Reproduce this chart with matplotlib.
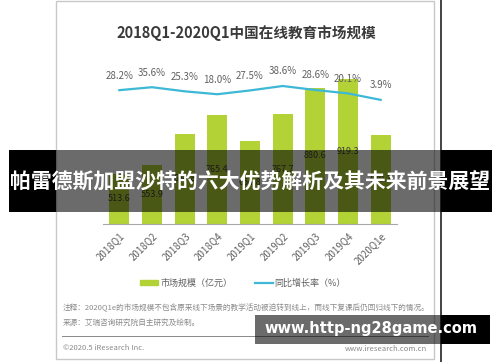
import matplotlib
matplotlib.use("Agg")
import matplotlib.pyplot as plt
from matplotlib.patches import Rectangle
from matplotlib.lines import Line2D

plt.rcParams['font.family'] = ['Noto Sans CJK SC', 'DejaVu Sans']

quarters = ["2018Q1", "2018Q2", "2018Q3", "2018Q4", "2019Q1",
            "2019Q2", "2019Q3", "2019Q4", "2020Q1e"]
market_size = [513.6, 553.9, 684.8, 765.4, 654.8, 767.7, 880.6, 919.3, 680.3]
growth = [28.2, 35.6, 25.3, 18.0, 27.5, 38.6, 28.6, 20.1, 3.9]

title = "2018Q1-2020Q1中国在线教育市场规模"
legend_bar = "市场规模（亿元）"
legend_line = "同比增长率（%）"
note1 = "注释：2020Q1e的市场规模不包含原来线下场景的教学活动被迫转到线上，而线下复课后仍回归线下的情况。"
note2 = "来源：艾瑞咨询研究院自主研究及绘制。"
copyright_txt = "©2020.5 iResearch Inc."
site_txt = "www.iresearch.com.cn"
banner_txt = "帕雷德斯加盟沙特的六大优势解析及其未来前景展望"
watermark_txt = "www.http-ng28game.com"

W, H = 500, 362
def fx(px):
    return px / W
def fy(py):
    return 1 - py / H

bar_color = "#b2d235"
line_color = "#3db8d6"

fig = plt.figure(figsize=(5, 3.62), dpi=100)
fig.patch.set_facecolor("white")

# outer frame of the report card + dark line on the right
fig.add_artist(Rectangle((fx(56), fy(359)), fx(434) - fx(56), fy(1) - fy(359),
                         transform=fig.transFigure, fill=False, ec="#c8c8c8", lw=1))
fig.add_artist(Line2D([fx(441), fx(441)], [0, 1], transform=fig.transFigure,
                      color="#222222", lw=1.2))

fig.text(fx(246), fy(33), title, ha="center", va="center", fontsize=10.5,
         fontweight="bold", color="#3a3a3a")

ax = fig.add_axes([fx(103), fy(224), fx(397) - fx(103), fy(60) - fy(224)])
ax.set_xlim(-0.5, len(quarters) - 0.5)
ymin = 300
ax.set_ylim(ymin, 1000)
x = list(range(len(quarters)))
bars = ax.bar(x, [v - ymin for v in market_size], bottom=ymin, width=0.62,
              color=bar_color, zorder=2)
ax.bar_label(bars, labels=[f"{v:.1f}" for v in market_size], label_type="center",
             fontsize=6.5, color="#404040")
for s in ["top", "left", "right"]:
    ax.spines[s].set_visible(False)
ax.spines["bottom"].set_color("#a8a8a8")
ax.set_yticks([])
ax.set_xticks(x)
ax.set_xticklabels(quarters, rotation=45, ha="right", va="top",
                   rotation_mode="anchor", fontsize=7, color="#606060")
ax.tick_params(axis="x", length=0, pad=5)
ax.patch.set_alpha(0)

ax2 = ax.twinx()
ax2.set_ylim(-306.4, 103.6)
ax2.plot(x, growth, color=line_color, lw=1.6, zorder=3)
for xi, g in zip(x, growth):
    ax2.annotate(f"{g:.1f}%", (xi, g), xytext=(0, 10.5), textcoords="offset points",
                 ha="center", va="center", fontsize=7, color="#606060")
ax2.axis("off")

handles = [Rectangle((0, 0), 1, 1, color=bar_color),
           Line2D([], [], color=line_color, lw=1.6)]
fig.legend(handles, [legend_bar, legend_line], loc="center",
           bbox_to_anchor=(fx(243), fy(283)), ncol=2, frameon=False,
           fontsize=6.5, handlelength=2.0, handleheight=0.6, handletextpad=0.2,
           columnspacing=2.5, labelcolor="#606060")

fig.text(fx(63), fy(308), note1, ha="left", va="center", fontsize=5.5, color="#8a8a8a")
fig.text(fx(63), fy(323), note2, ha="left", va="center", fontsize=5.5, color="#8a8a8a")
fig.add_artist(Line2D([fx(62), fx(428)], [fy(336), fy(336)], transform=fig.transFigure,
                      color="#8a8a8a", lw=0.7))
fig.text(fx(63), fy(348), copyright_txt, ha="left", va="center", fontsize=5.5, color="#8a8a8a")
fig.text(fx(427), fy(349), site_txt, ha="right", va="center", fontsize=5.5, color="#8a8a8a")

# headline banner over the chart
fig.add_artist(Rectangle((fx(9), fy(212)), fx(56) - fx(9), fy(150) - fy(212),
                         transform=fig.transFigure, color="black", lw=0, zorder=10))
fig.add_artist(Rectangle((fx(441), fy(212)), fx(492) - fx(441), fy(150) - fy(212),
                         transform=fig.transFigure, color="black", lw=0, zorder=10))
fig.add_artist(Rectangle((fx(56), fy(212)), fx(441) - fx(56), fy(150) - fy(212),
                         transform=fig.transFigure, color="black", alpha=0.58, lw=0, zorder=10))
fig.text(fx(250), fy(181), banner_txt, ha="center", va="center", fontsize=15,
         fontweight="bold", color="white", zorder=11)

# site watermark box
fig.add_artist(Rectangle((fx(255), fy(344)), fx(441) - fx(255), fy(315) - fy(344),
                         transform=fig.transFigure, color="black", alpha=0.58, lw=0, zorder=10))
fig.add_artist(Rectangle((fx(441), fy(344)), fx(490) - fx(441), fy(315) - fy(344),
                         transform=fig.transFigure, color="black", lw=0, zorder=10))
fig.text(fx(371), fy(329), watermark_txt, ha="center", va="center", fontsize=10.5,
         fontweight="bold", color="white", family="DejaVu Sans", zorder=11)

fig.savefig("out.png", dpi=100)
